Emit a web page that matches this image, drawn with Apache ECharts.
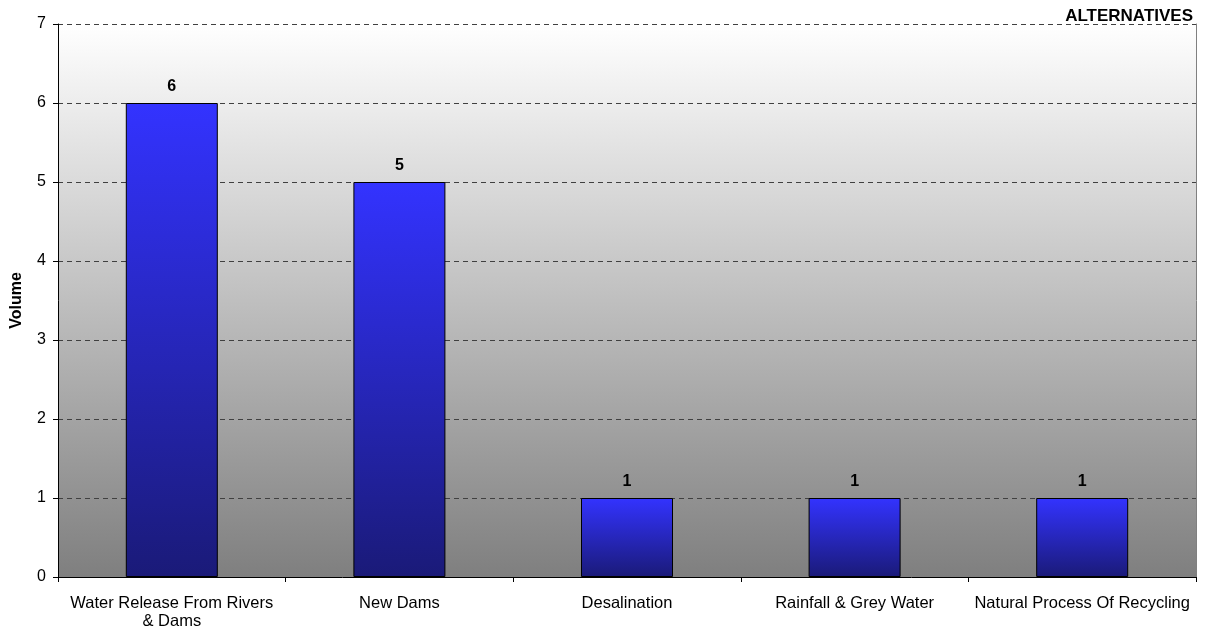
<!DOCTYPE html>
<html>
<head>
<meta charset="utf-8">
<script src="https://cdn.jsdelivr.net/npm/echarts@6/dist/echarts.min.js"></script>
<style>
  html, body { margin: 0; padding: 0; background: #ffffff; }
  #chart { width: 1207px; height: 633px; }
</style>
</head>
<body>
<div id="chart"></div>
<script>
// Water supply alternatives and the volume attributed to each
const categories = [
  'Water Release From Rivers\n& Dams',
  'New Dams',
  'Desalination',
  'Rainfall & Grey Water',
  'Natural Process Of Recycling'
];
const volumes = [6, 5, 1, 1, 1];
const yTicks = { min: 0, max: 7, interval: 1 };

const chart = echarts.init(document.getElementById('chart'));
const font = 'Liberation Sans, Arial, sans-serif';

chart.setOption({
  animation: false,
  backgroundColor: '#ffffff',
  title: {
    text: 'ALTERNATIVES',
    right: 14,
    top: 8,
    padding: 0,
    textStyle: { fontFamily: font, fontSize: 17, fontWeight: 'bold', color: '#000' }
  },
  grid: {
    left: 58, right: 11, top: 24, bottom: 56,
    show: true,
    borderWidth: 0,
    backgroundColor: new echarts.graphic.LinearGradient(0, 0, 0, 1, [
      { offset: 0, color: '#ffffff' },
      { offset: 1, color: '#7f7f7f' }
    ])
  },
  xAxis: {
    type: 'category',
    data: categories,
    axisLine: { lineStyle: { color: '#000', width: 1 } },
    axisTick: { show: true, length: 5, alignWithLabel: false, lineStyle: { color: '#000' } },
    axisLabel: {
      interval: 0, margin: 18, color: '#000',
      fontFamily: font, fontSize: 16.5, lineHeight: 17.5
    }
  },
  yAxis: [{
    type: 'value',
    min: yTicks.min, max: yTicks.max, interval: yTicks.interval,
    name: 'Volume',
    nameLocation: 'middle',
    nameGap: 33,
    nameTextStyle: { fontFamily: font, fontSize: 16, fontWeight: 'bold', color: '#000' },
    axisLine: { show: true, lineStyle: { color: '#000', width: 1 } },
    axisTick: { show: true, length: 5, lineStyle: { color: '#000' } },
    axisLabel: { margin: 12, color: '#000', fontFamily: font, fontSize: 16 },
    splitLine: { show: true, lineStyle: { color: '#404040', type: [5, 4], width: 1 } }
  }, {
    type: 'value',
    position: 'right',
    min: yTicks.min, max: yTicks.max, interval: yTicks.interval,
    axisLine: { show: true, lineStyle: { color: '#808080', width: 1 } },
    axisTick: { show: false },
    axisLabel: { show: false },
    splitLine: { show: false }
  }],
  series: [{
    type: 'bar',
    data: volumes,
    barWidth: 92,
    itemStyle: {
      color: new echarts.graphic.LinearGradient(0, 0, 0, 1, [
        { offset: 0, color: '#3333ff' },
        { offset: 1, color: '#1a1a78' }
      ]),
      borderColor: '#000',
      borderWidth: 1
    },
    label: {
      show: true,
      position: 'top',
      distance: 8,
      color: '#000',
      fontFamily: font,
      fontSize: 16,
      fontWeight: 'bold'
    }
  }]
});
</script>
</body>
</html>
